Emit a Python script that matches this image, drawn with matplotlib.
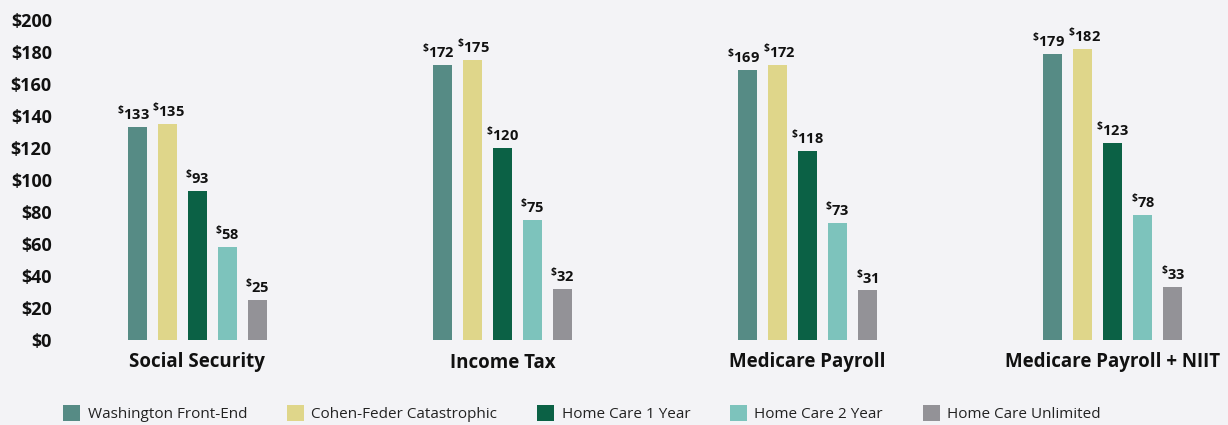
import matplotlib
matplotlib.use("Agg")
import matplotlib.pyplot as plt
import numpy as np

# data
categories = ["Social Security", "Income Tax", "Medicare Payroll", "Medicare Payroll + NIIT"]
series_names = ["Washington Front-End", "Cohen-Feder Catastrophic", "Home Care 1 Year",
                "Home Care 2 Year", "Home Care Unlimited"]
washington = [133, 172, 169, 179]
cohen_feder = [135, 175, 172, 182]
home_care_1 = [93, 120, 118, 123]
home_care_2 = [58, 75, 73, 78]
home_care_unl = [25, 32, 31, 33]
yticks = [0, 20, 40, 60, 80, 100, 120, 140, 160, 180, 200]

colors = ["#568b85", "#dfd68a", "#0b6145", "#7dc3bc", "#939297"]
bg = "#f3f3f6"

plt.rcParams['font.family'] = ['Open Sans', 'DejaVu Sans']
plt.rcParams['mathtext.fontset'] = 'custom'
plt.rcParams['mathtext.rm'] = 'Open Sans:bold'
plt.rcParams['mathtext.bf'] = 'Open Sans:bold'

fig = plt.figure(figsize=(12.28, 4.25), dpi=100, facecolor=bg)
ax = fig.add_axes([0.049, 0.2, 0.951, 0.753])
ax.set_facecolor(bg)

all_series = [washington, cohen_feder, home_care_1, home_care_2, home_care_unl]
x = np.arange(len(categories))
step = 0.0983
width = 0.0622
nudge = [-3, 1, 0, 0, 0]
for i, vals in enumerate(all_series):
    xs = x + (i - 2) * step
    ax.bar(xs, vals, width, color=colors[i], label=series_names[i], zorder=2)
    for xi, v in zip(xs, vals):
        ax.annotate(r'$^{\$}$' + r'$\mathbf{%d}$' % v, (xi, v), xytext=(nudge[i], 3),
                    textcoords='offset points', ha='center', va='bottom',
                    fontsize=10.5, fontweight='bold', color='#111111')

ax.set_ylim(0, 200)
ax.set_xlim(-0.449, 3.377)
ax.set_yticks(yticks)
ax.set_yticklabels(['$%d' % t for t in yticks], fontsize=13, fontweight='bold', color='#111111')
ax.set_xticks(x)
ax.set_xticklabels(categories, fontsize=13.5, fontweight='bold', color='#111111')
ax.tick_params(axis='y', length=0, pad=6)
ax.tick_params(axis='x', length=0, pad=9)
for s in ax.spines.values():
    s.set_visible(False)

leg = fig.legend(loc='lower center', ncol=5, bbox_to_anchor=(0.474, -0.025), frameon=False,
                 fontsize=11, handlelength=1.1, handleheight=1.2, columnspacing=2.6,
                 handletextpad=0.5)
for t in leg.get_texts():
    t.set_color('#222222')

fig.savefig("out.png", dpi=100, facecolor=bg)
